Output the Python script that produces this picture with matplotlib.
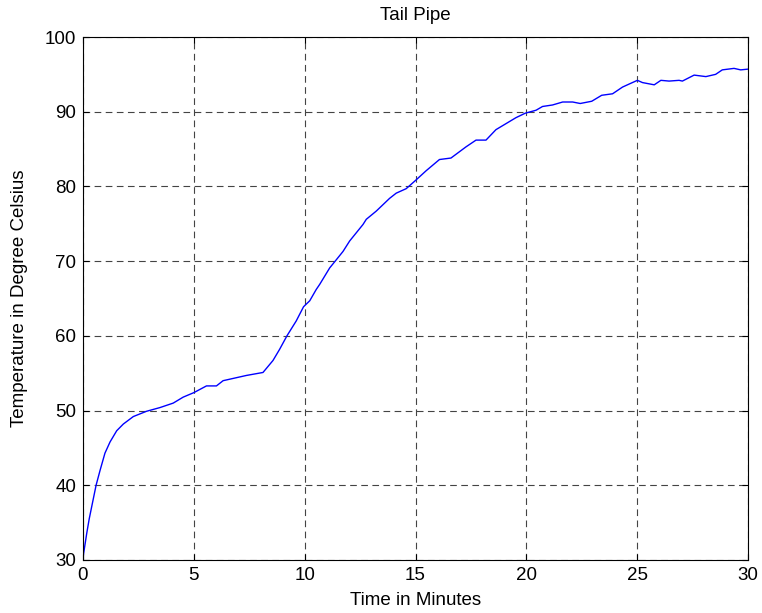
import matplotlib.pyplot as plt
import numpy as np

plt.rcParams['font.family'] = ['Liberation Sans', 'DejaVu Sans']

# Tempo (min) e temperatura (graus C)
tempo = [0.0, 0.05, 0.17, 0.28, 0.39, 0.59, 0.77, 0.99, 1.22, 1.52, 1.82,
         2.27, 2.86, 3.47, 4.07, 4.52, 5.0, 5.57, 6.02, 6.32, 6.62, 7.37,
         8.12, 8.57, 8.87, 9.2, 9.62, 9.95, 10.23, 10.52, 10.68, 11.13,
         11.35, 11.73, 12.03, 12.63, 12.78, 13.23, 13.83, 14.13, 14.58,
         15.0, 15.48, 16.08, 16.6, 17.28, 17.73, 18.18, 18.63, 19.08, 19.53,
         19.95, 20.44, 20.73, 21.18, 21.64, 22.09, 22.43, 22.95, 23.4, 23.89,
         24.34, 24.71, 25.01, 25.24, 25.77, 26.07, 26.44, 26.89, 27.04,
         27.57, 28.1, 28.54, 28.84, 29.37, 29.67, 30.0]
temperatura = [30.3, 31.3, 33.6, 35.5, 37.1, 40.0, 42.0, 44.3, 45.8, 47.3,
               48.2, 49.2, 49.9, 50.4, 51.0, 51.8, 52.4, 53.3, 53.3, 54.0,
               54.2, 54.7, 55.1, 56.7, 58.2, 60.0, 62.0, 63.9, 64.7, 66.2,
               66.9, 69.1, 69.9, 71.3, 72.7, 74.9, 75.6, 76.7, 78.4, 79.1,
               79.7, 80.8, 82.1, 83.6, 83.8, 85.3, 86.2, 86.2, 87.6, 88.4,
               89.2, 89.8, 90.2, 90.7, 90.9, 91.3, 91.3, 91.1, 91.4, 92.2,
               92.4, 93.3, 93.8, 94.2, 93.9, 93.6, 94.2, 94.1, 94.2, 94.1,
               94.9, 94.7, 95.0, 95.6, 95.8, 95.6, 95.7]

xticks = [0, 5, 10, 15, 20, 25, 30]
yticks = [30, 40, 50, 60, 70, 80, 90, 100]

fig = plt.figure(figsize=(7.62, 6.13), dpi=100)
ax = fig.add_axes([83 / 762, 1 - 560 / 613, 665 / 762, 523 / 613])

ax.plot(tempo, temperatura, color='#0000ff', linewidth=1.0)

ax.set_xlim(0, 30)
ax.set_ylim(30, 100)
ax.set_xticks(xticks)
ax.set_yticks(yticks)
ax.tick_params(direction='in', top=True, right=True, length=4, width=0.8,
               labelsize=13.5, pad=5)
ax.grid(True, color='#444444', linestyle=(0, (6, 4)), linewidth=0.8)
for s in ax.spines.values():
    s.set_linewidth(0.8)

ax.set_title('Tail Pipe', fontsize=13.5, pad=12)
ax.set_xlabel('Time in Minutes', fontsize=13.5, labelpad=6)
ax.set_ylabel('Temperature in Degree Celsius', fontsize=13.5, labelpad=12)

fig.savefig('out.png', dpi=100)
